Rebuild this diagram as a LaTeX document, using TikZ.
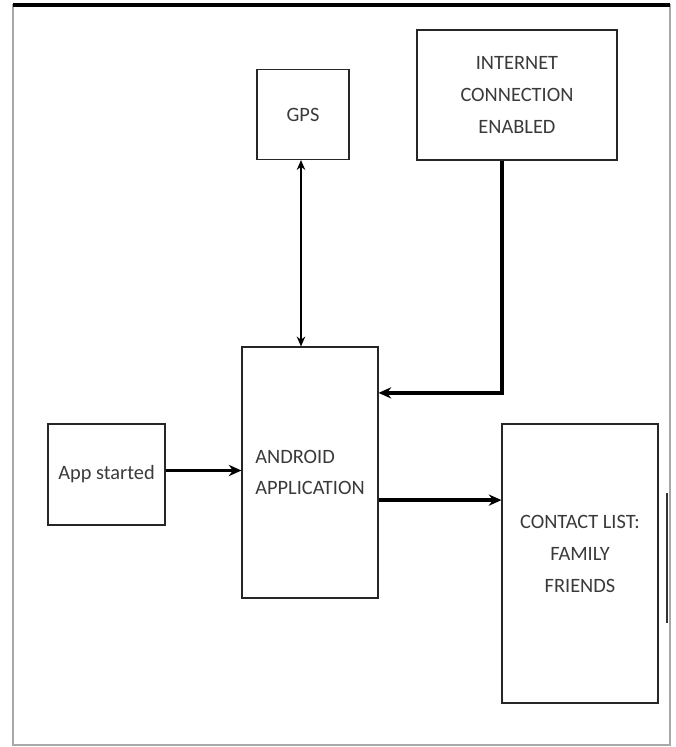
\documentclass[tikz,border=0pt]{standalone}
\usepackage{fontspec}
\setmainfont{Carlito}
\usetikzlibrary{arrows.meta, positioning}
\definecolor{Frame_Gray}{HTML}{A8A8A8}
\definecolor{Text_Gray}{HTML}{3A3A3A}

\tikzset{
    block/.style={draw=black!85, line width=0.8pt, inner sep=0pt, align=center,
        text=Text_Gray, font=\fontsize{14.5}{22.5}\selectfont},
    flow/.style={line width=2.4pt, -{Stealth[length=9pt, width=8pt]}},
    link/.style={line width=1.3pt, {Stealth[length=7pt, width=6pt]}-{Stealth[length=7pt, width=6pt]}}
}

\begin{document}
\begin{tikzpicture}[x=0.25mm, y=-0.25mm]

    % One unit is one pixel of the 676 x 747 page, y runs downwards
    \useasboundingbox (0,0) rectangle (676,747);

    % === Page frame ===
    \draw[Frame_Gray, line width=0.8pt] (13,5) rectangle (670,745);
    \draw[line width=3pt] (13,5) -- (670,5);
    \draw[black!80, line width=1.5pt] (667,493) -- (667,623);

    % === Blocks ===
    \node[block, minimum width=23mm, minimum height=22.5mm] (gps) at (303,114.5) {GPS};
    \node[block, minimum width=50mm, minimum height=32.5mm] (internet) at (517,95)
        {INTERNET\\CONNECTION\\ENABLED};
    \node[block, align=left, minimum width=34mm, minimum height=62.75mm] (android) at (310,472.5)
        {ANDROID\\APPLICATION};
    \node[block, minimum width=29.25mm, minimum height=25.25mm] (app) at (106.5,474.5) {App started};
    \node[block, minimum width=39mm, minimum height=69.75mm] (contact) at (580,563.5) {};
    \node[block, draw=none] (contacttext) at (580,554) {CONTACT LIST:\\FAMILY\\FRIENDS};

    % === Connectors ===
    \draw[link] ([xshift=-0.5mm]gps.south) -- ([xshift=-0.5mm]gps.south |- android.north);
    \draw[flow] ([xshift=-3.75mm]internet.south) |- ([yshift=19.9mm]android.east);
    \draw[flow] ([yshift=1mm]app.east) -- ([yshift=1mm]app.east -| android.west);
    \draw[flow] ([yshift=-6.9mm]android.east) -- ([yshift=-6.9mm]android.east -| contact.west);

\end{tikzpicture}
\end{document}
